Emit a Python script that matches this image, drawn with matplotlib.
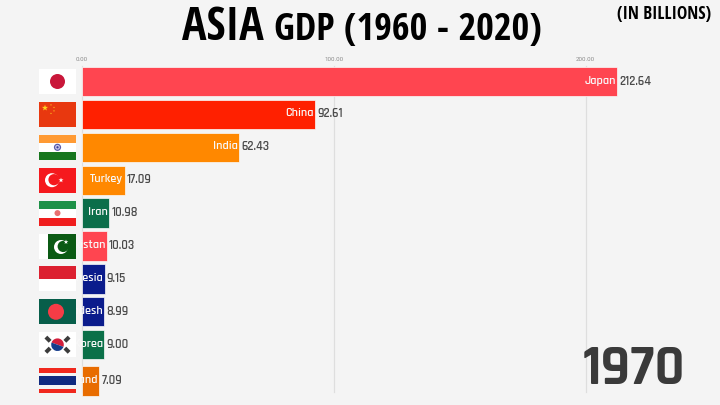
import matplotlib
matplotlib.use('Agg')
import matplotlib.pyplot as plt
from matplotlib.patches import Rectangle, Circle, Polygon, Wedge
import numpy as np

countries = ['Japan', 'China', 'India', 'Turkey', 'Iran', 'Pakistan',
             'Indonesia', 'Bangladesh', 'South Korea', 'Thailand']
gdp = [212.64, 92.61, 62.43, 17.09, 10.98, 10.03, 9.15, 8.99, 9.00, 7.09]
value_labels = ['212.64', '92.61', '62.43', '17.09', '10.98', '10.03', '9.15', '8.99', '9.00', '7.09']
# Thailand is still moving between ranks in this frame
ranks = [0, 1, 2, 3, 4, 5, 6, 7, 8, 9.1]
bar_colors = ['#FF4550', '#FF2000', '#FF8800', '#FF8800', '#0B6E4A',
              '#FF4550', '#0B1C8C', '#0B1C8C', '#0A7048', '#E86C00']
ticks = [0, 100, 200]
tick_labels = ['0.00', '100.00', '200.00']
year = '1970'

BG = '#F4F4F4'
W, H = 720, 405
PITCH = 32.9
TOP = 81.5
X0 = 81.6
PX_PER_UNIT = 2.52

label_font = ['Rajdhani', 'Roboto', 'DejaVu Sans']
title_font = ['Open Sans Condensed', 'PT Sans Narrow', 'Roboto Condensed', 'Roboto', 'DejaVu Sans']

fig = plt.figure(figsize=(7.2, 4.05), dpi=100, facecolor=BG)
ax = fig.add_axes([0, 0, 1, 1], facecolor=BG)
ax.set_xlim(-X0 / PX_PER_UNIT, (W - X0) / PX_PER_UNIT)
ax.set_ylim((H - TOP) / PITCH, -TOP / PITCH)
ax.axis('off')

for t, lab in zip(ticks, tick_labels):
    ax.plot([t, t], [-0.46, 9.45], color='#DEDEDE', lw=0.9, zorder=1)
    ax.text(t, -0.68, lab, ha='center', va='center', fontsize=4.4, color='#8A8A8A', family='Roboto')

bars = ax.barh(ranks, gdp, height=0.89, color=bar_colors, edgecolor='#FAFAFA', linewidth=0.5, zorder=2)

for bar, name, val, lab, r in zip(bars, countries, gdp, value_labels, ranks):
    t = ax.text(val - 0.6, r - 0.03, name, ha='right', va='center', fontsize=8.8, color='#F8F8F8',
                family=label_font, fontweight='semibold', zorder=3)
    # long names get cut off at the start of the bar
    t.set_clip_path(bar)
    ax.text(val + 0.8, r - 0.03, lab, ha='left', va='center', fontsize=9, color='#4A4A4A',
            family=label_font, fontweight='semibold', zorder=3)

# flags live in pixel coordinates
fl = fig.add_axes([0, 0, 1, 1], facecolor='none')
fl.set_xlim(0, W)
fl.set_ylim(H, 0)
fl.axis('off')
FX, FW, FH = 39, 37, 25


def stripes(y, colors, fracs):
    top = y - FH / 2
    for c, f in zip(colors, fracs):
        fl.add_patch(Rectangle((FX, top), FW, FH * f, color=c, lw=0))
        top += FH * f


def star(cx, cy, r, color):
    a = np.arange(10) * np.pi / 5 - np.pi / 2
    rad = np.where(np.arange(10) % 2 == 0, r, r * 0.4)
    fl.add_patch(Polygon(np.c_[cx + rad * np.cos(a), cy + rad * np.sin(a)], color=color, lw=0))


def flag_japan(y):
    stripes(y, ['white'], [1])
    fl.add_patch(Circle((FX + FW / 2, y), 7.5, color='#C9173A', lw=0))


def flag_china(y):
    stripes(y, ['#E8380F'], [1])
    star(45, y - 6.5, 3.2, '#FFD21E')
    for dx, dy in [(51, -9.5), (54, -7), (54, -3.5), (51, -1)]:
        star(dx, y + dy, 1.0, '#FFC81E')


def flag_india(y):
    stripes(y, ['#FF9A33', 'white', '#17761E'], [0.33, 0.34, 0.33])
    fl.add_patch(Circle((FX + FW / 2, y), 3.6, color='#5A5AA8', lw=0))
    fl.add_patch(Circle((FX + FW / 2, y), 2.4, color='#C8C8E8', lw=0))
    fl.add_patch(Circle((FX + FW / 2, y), 1.1, color='#3A3A98', lw=0))


def crescent(cx, cy, r, offset, fg, bg):
    fl.add_patch(Circle((cx, cy), r, color=fg, lw=0))
    fl.add_patch(Circle((cx + offset, cy - offset * 0.25), r * 0.8, color=bg, lw=0))


def flag_turkey(y):
    stripes(y, ['#F5191E'], [1])
    crescent(52, y, 7, 2, 'white', '#F5191E')
    star(61, y, 2.6, 'white')


def flag_iran(y):
    stripes(y, ['#1E9148', 'white', '#F01E1E'], [0.33, 0.38, 0.29])
    fl.add_patch(Circle((FX + FW / 2, y), 3, color='#E87070', lw=0))


def flag_pakistan(y):
    stripes(y, ['white'], [1])
    fl.add_patch(Rectangle((48, y - FH / 2), 28, FH, color='#0B5A14', lw=0))
    crescent(61, y + 1, 7, 2.2, 'white', '#0B5A14')
    star(66, y - 4, 2.4, 'white')


def flag_indonesia(y):
    stripes(y, ['#DC2030', 'white'], [0.5, 0.5])


def flag_bangladesh(y):
    stripes(y, ['#075E4A'], [1])
    fl.add_patch(Circle((56, y), 8, color='#F53C46', lw=0))


def flag_korea(y):
    stripes(y, ['white'], [1])
    cx = FX + FW / 2
    # axis is flipped, so these angles run clockwise on screen
    fl.add_patch(Wedge((cx, y), 6.3, 200, 20, color='#D21E3C', lw=0))
    fl.add_patch(Wedge((cx, y), 6.3, 20, 200, color='#143C8C', lw=0))
    for dx, dy in [(-9.5, -5.5), (9.5, -5.5), (-9.5, 5.5), (9.5, 5.5)]:
        fl.add_patch(Rectangle((cx + dx - 3, y + dy - 2), 6, 4, angle=45 if dx * dy > 0 else -45,
                               rotation_point='center', color='#3C3C3C', lw=0))


def flag_thailand(y):
    stripes(y, ['#F0281E', BG, '#102A80', BG, '#F0281E'], [0.18, 0.14, 0.36, 0.14, 0.18])


flag_funcs = [flag_japan, flag_china, flag_india, flag_turkey, flag_iran, flag_pakistan,
              flag_indonesia, flag_bangladesh, flag_korea, flag_thailand]
for draw, r in zip(flag_funcs, ranks):
    draw(TOP + PITCH * r)

# headings
fl.text(182, 40, 'ASIA', fontsize=33, fontweight='bold', family=title_font, color='black', va='baseline', ha='left')
fl.text(274, 40.5, 'GDP (1960 - 2020)', fontsize=27.5, fontweight='bold', family=title_font, color='black', va='baseline', ha='left')
fl.text(617, 18.5, '(IN BILLIONS)', fontsize=12.6, fontweight='bold', family=title_font, color='black', va='baseline', ha='left')
fl.text(583, 384.5, year, fontsize=40.5, fontweight='bold', family=label_font, color='#3A3A3A', va='baseline', ha='left')

fig.savefig('out.png', dpi=100, facecolor=BG)
